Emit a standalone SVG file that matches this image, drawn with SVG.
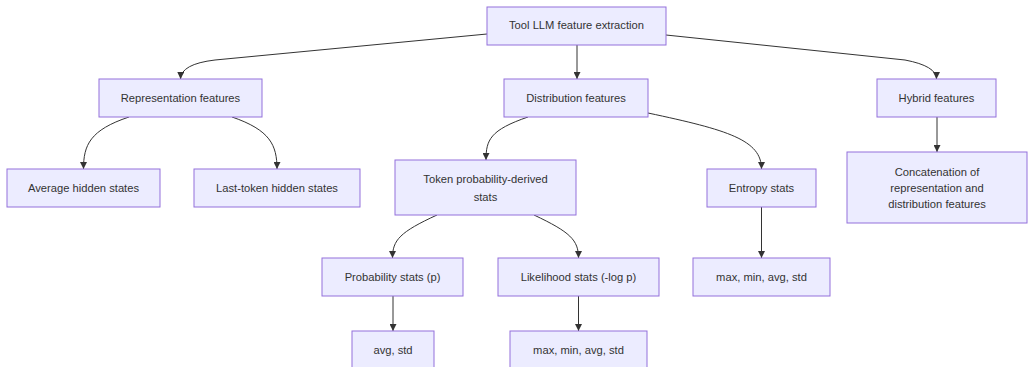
<svg xmlns="http://www.w3.org/2000/svg" width="1028" height="367" viewBox="0 0 1028 367">
<defs>
<style>
.n rect{fill:#ECECFF;stroke:#9370DB;stroke-width:1}
.n text{font-family:"Liberation Sans",Arial,sans-serif;font-size:11.2px;fill:#333;text-anchor:middle}
.e path{fill:none;stroke:#333;stroke-width:1}
</style>
<marker id="ah" viewBox="0 0 10 10" refX="10" refY="5" markerWidth="7" markerHeight="7" markerUnits="userSpaceOnUse" orient="auto">
<path d="M0,0 L10,5 L0,10 z" fill="#333"/>
</marker>
</defs>
<rect width="1028" height="367" fill="#fff"/>
<g class="e">
<path d="M487,34 L215,60 Q181,64 180.5,79" marker-end="url(#ah)"/>
<path d="M577,45 L577,79" marker-end="url(#ah)"/>
<path d="M666,35 L905,60 Q936.5,66 936.5,79" marker-end="url(#ah)"/>
<path d="M129,117 C90,130 83.5,145 83.5,169" marker-end="url(#ah)"/>
<path d="M232,117 C270,130 277,145 277,169" marker-end="url(#ah)"/>
<path d="M528,117 C490,130 486,140 486,160" marker-end="url(#ah)"/>
<path d="M648,113 C728,130 761.5,140 761.5,169" marker-end="url(#ah)"/>
<path d="M937,117 L937,152" marker-end="url(#ah)"/>
<path d="M437,215 C400,232 392.5,240 392.5,258" marker-end="url(#ah)"/>
<path d="M534,215 C570,232 578.5,240 578.5,258" marker-end="url(#ah)"/>
<path d="M761.5,207 L761.5,258" marker-end="url(#ah)"/>
<path d="M393,296 L393,331" marker-end="url(#ah)"/>
<path d="M578.5,296 L578.5,331" marker-end="url(#ah)"/>
</g>
<g id="root" class="n"><rect x="487" y="7" width="179" height="38"/><text x="576.5" y="29">Tool LLM feature extraction</text></g>
<g id="rep" class="n"><rect x="99" y="79" width="163" height="38"/><text x="180.5" y="102">Representation features</text></g>
<g id="dist" class="n"><rect x="504" y="79" width="144" height="38"/><text x="576" y="102">Distribution features</text></g>
<g id="hyb" class="n"><rect x="877" y="79" width="119" height="38"/><text x="936.5" y="102">Hybrid features</text></g>
<g id="avgh" class="n"><rect x="7" y="169" width="153" height="38"/><text x="83.5" y="192">Average hidden states</text></g>
<g id="lasth" class="n"><rect x="194" y="169" width="166" height="38"/><text x="277" y="192">Last-token hidden states</text></g>
<g id="tok" class="n"><rect x="395" y="160" width="181" height="55"/><text x="485.5" y="183">Token probability-derived</text><text x="485.5" y="201">stats</text></g>
<g id="ent" class="n"><rect x="707" y="169" width="109" height="38"/><text x="761.5" y="192">Entropy stats</text></g>
<g id="concat" class="n"><rect x="847" y="152" width="180" height="71"/><text x="937" y="176">Concatenation of</text><text x="937" y="192">representation and</text><text x="937" y="208">distribution features</text></g>
<g id="prob" class="n"><rect x="322" y="258" width="141" height="38"/><text x="392.5" y="281">Probability stats (p)</text></g>
<g id="lik" class="n"><rect x="498" y="258" width="161" height="38"/><text x="578.5" y="281">Likelihood stats (-log p)</text></g>
<g id="entstats" class="n"><rect x="693" y="258" width="137" height="38"/><text x="761.5" y="281">max, min, avg, std</text></g>
<g id="probstats" class="n"><rect x="352" y="331" width="82" height="38"/><text x="393" y="354">avg, std</text></g>
<g id="likstats" class="n"><rect x="510" y="331" width="137" height="38"/><text x="578.5" y="354">max, min, avg, std</text></g>
</svg>
